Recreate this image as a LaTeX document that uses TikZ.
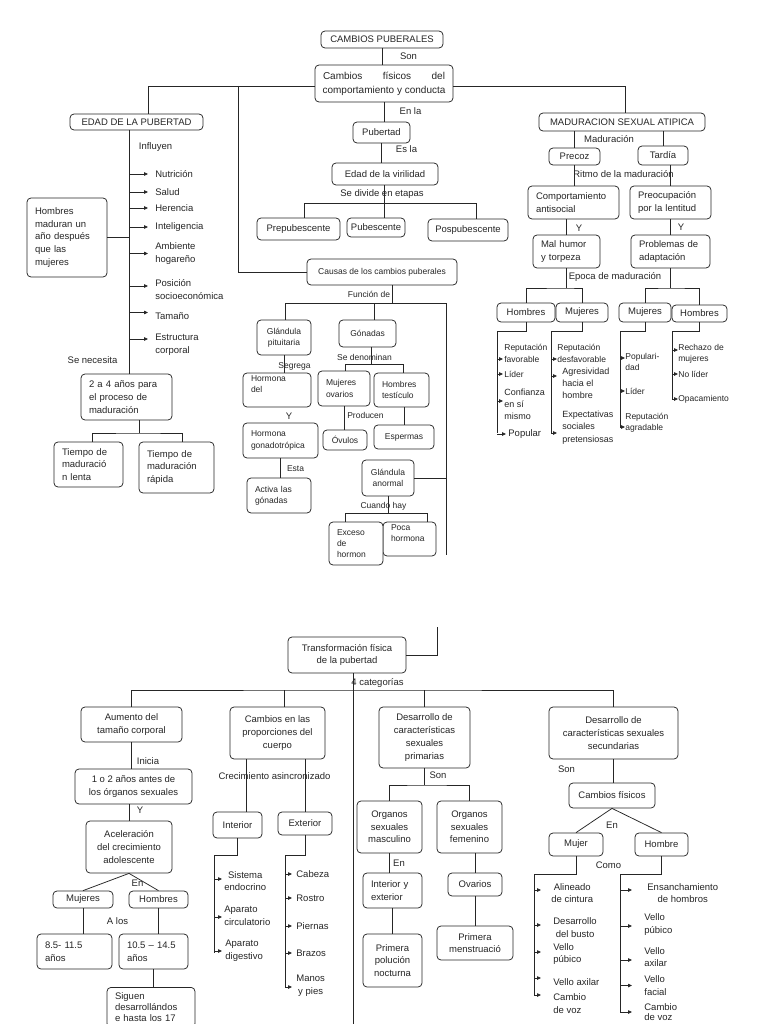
\documentclass[tikz,border=0pt]{standalone}
\usepackage{fontspec}
\setmainfont{Liberation Sans}
\usetikzlibrary{arrows.meta}

\begin{document}
\begin{tikzpicture}[x=1pt, y=-1pt, line width=0.75pt, color=black!85,
    box/.style={draw, rounded corners=4pt, align=center, inner sep=1pt,
        font=\fontsize{9.5}{12.7}\selectfont},
    lbox/.style={box, align=left, inner xsep=8pt},
    sbox/.style={box, font=\fontsize{8.5}{11.3}\selectfont},
    slbox/.style={sbox, align=left, inner xsep=8pt},
    lbl/.style={inner sep=1pt, font=\fontsize{9.5}{12}\selectfont},
    slbl/.style={lbl, font=\fontsize{8.5}{11}\selectfont},
    itm/.style={anchor=west, align=left, inner sep=1pt, font=\fontsize{9.5}{12.7}\selectfont},
    sitm/.style={itm, font=\fontsize{8.5}{11.3}\selectfont},
    mitm/.style={itm, font=\fontsize{9}{12.2}\selectfont},
    arr/.style={-{Triangle[length=4pt,width=3.5pt]}}]

    \useasboundingbox (0,0) rectangle (768,1024);
    \fill[white] (0,0) rectangle (768,1024);
    \clip (0,0) rectangle (768,1024);

    % parte superior
    \node[box, minimum width=122pt, minimum height=17pt] (cp) at (382,39.5) {CAMBIOS PUBERALES};
    \node[lbl] (son1) at (408.5,56) {Son};
    \node[box, font=\fontsize{10}{14}\selectfont, minimum width=138pt, minimum height=37pt] (cf) at (384,83.5)
        {\makebox[122pt][s]{Cambios físicos del}\\comportamiento y conducta};
    \node[lbl] (enla) at (410.5,111) {En la};
    \node[box, minimum width=57pt, minimum height=21pt] (pub) at (381.5,132.5) {Pubertad};
    \node[lbl] (esla) at (406.5,149) {Es la};
    \node[box, minimum width=106pt, minimum height=22pt] (virl) at (385,174) {Edad de la virilidad};
    \node[lbl] (sdiv) at (382,194) {Se divide en etapas};
    \node[box, minimum width=83pt, minimum height=22pt] (pre) at (298.5,229) {Prepubescente};
    \node[box, minimum width=58pt, minimum height=19pt] (pbs) at (376,227.5) {Pubescente};
    \node[box, minimum width=80pt, minimum height=22pt] (posp) at (468,230) {Pospubescente};

    \coordinate (jl) at (238,86);
    \coordinate (jel) at (148,86);
    \coordinate (jr) at (625,86);
    \coordinate (sd) at (384,203);
    \coordinate (sdl) at (304,203);
    \coordinate (sdr) at (476,203);
    \draw (cp.south) -- (cp.south |- cf.north);
    \draw (cf.south) -- (cf.south |- pub.north);
    \draw (pub.south) -- (pub.south |- virl.north);
    \draw (virl.south -| sd) -- (pbs.north -| sd);
    \draw (pre.north -| sdl) |- (sdr) -- (posp.north -| sdr);

    % edad de la pubertad
    \node[box, minimum width=133pt, minimum height=16pt] (edad) at (136.5,122) {EDAD DE LA PUBERTAD};
    \node[lbl] (infl) at (155.5,147) {Influyen};
    \node[itm] (nut) at (154,174) {Nutrición};
    \node[itm] (sal) at (154,192) {Salud};
    \node[itm] (her) at (154,208) {Herencia};
    \node[itm] (intl) at (154,227) {Inteligencia};
    \node[itm] (amb) at (154,253.5) {Ambiente\\hogareño};
    \node[itm] (posi) at (154,289.5) {Posición\\socioeconómica};
    \node[itm] (tam) at (154,316) {Tamaño};
    \node[itm] (est) at (154,344.5) {Estructura\\corporal};
    \node[lbox, text width=64pt, minimum height=79pt] (hmad) at (67,237.5)
        {Hombres\\maduran un\\año después\\que las\\mujeres};
    \node[lbl] (nec) at (92.5,360) {Se necesita};
    \node[lbox, text width=75pt, minimum height=46pt] (two) at (126.5,397)
        {2 a 4 años para\\el proceso de\\maduración};
    \node[lbox, text width=53pt, minimum height=45pt] (tl) at (88.5,464.5) {Tiempo de\\maduració\\n lenta};
    \node[lbox, text width=59pt, minimum height=51pt] (tr) at (176.5,467.5) {Tiempo de\\maduración\\rápida};

    \coordinate (et) at (129,130);
    \coordinate (j2) at (139,433);
    \coordinate (j2l) at (92,433);
    \coordinate (j2r) at (182,433);
    \draw (cf.west |- jl) -- (jel) -- (jel |- edad.north);
    \draw (et) -- (et |- two.north);
    \draw (hmad.east) -- (et |- hmad.east);
    \draw[arr] (et |- nut.west) -- ++(19,0);
    \draw[arr] (et |- sal.west) -- ++(19,0);
    \draw[arr] (et |- her.west) -- ++(19,0);
    \draw[arr] (et |- intl.west) -- ++(19,0);
    \draw[arr] (et |- amb.west) -- ++(19,0);
    \draw[arr] (et |- posi.west) ++(0,-3.5) -- ++(19,0);
    \draw[arr] (et |- tam.west) ++(0,-3.5) -- ++(19,0);
    \draw[arr] (et |- est.west) ++(0,-5.5) -- ++(19,0);
    \draw (two.south -| j2) -- (j2);
    \draw (tl.north -| j2l) |- (j2) -| (tr.north -| j2r);

    % causas
    \node[sbox, minimum width=150pt, minimum height=26pt] (causas) at (382,272) {Causas de los cambios puberales};
    \node[slbl] (func) at (369,294) {Función de};
    \node[sbox, minimum width=54pt, minimum height=35pt] (glp) at (284,337.5) {Glándula\\pituitaria};
    \node[slbl] (segr) at (294.5,366) {Segrega};
    \node[slbox, text width=52pt, minimum height=34pt] (hdel) at (277,390) {Hormona\\del\\\mbox{}};
    \node[lbl] (y1) at (289,416) {Y};
    \node[slbox, text width=59pt, minimum height=35pt] (hgon) at (280.5,440.5) {Hormona\\gonadotrópica};
    \node[slbl] (esta) at (295.5,469) {Esta};
    \node[slbox, text width=48pt, minimum height=35pt] (act) at (279,495.5) {Activa las\\gónadas};
    \node[sbox, minimum width=57pt, minimum height=27pt] (gon) at (367.5,333.5) {Gónadas};
    \node[slbl] (sden) at (364.5,357) {Se denominan};
    \node[slbox, text width=36pt, minimum height=35pt] (mov) at (344,388.5) {Mujeres\\ovarios};
    \node[slbox, text width=39pt, minimum height=34pt] (hte) at (401.5,390) {Hombres\\testículo};
    \node[slbl] (prod) at (365.5,415) {Producen};
    \node[sbox, minimum width=44pt, minimum height=20pt] (ovu) at (345,440) {Óvulos};
    \node[sbox, minimum width=60pt, minimum height=24pt] (esp) at (404,437) {Espermas};
    \node[sbox, minimum width=52pt, minimum height=36pt] (gan) at (388,478) {Glándula\\anormal};
    \node[slbl] (cuan) at (383.5,506) {Cuando hay};
    \node[slbox, text width=37pt, minimum height=34pt] (poca) at (409.5,539) {Poca\\hormona\\\mbox{}};
    \node[slbox, fill=white, text width=38pt, minimum height=43pt] (exc) at (356,543.5) {Exceso\\de\\hormon};

    \coordinate (fj) at (392,303);
    \coordinate (fl) at (285,303);
    \coordinate (fm) at (374,303);
    \coordinate (fr) at (446,303);
    \coordinate (fre) at (446,555);
    \coordinate (gj) at (371,364);
    \coordinate (gjl) at (345,364);
    \coordinate (gjr) at (403,364);
    \coordinate (cj) at (388,513);
    \coordinate (cjl) at (345,513);
    \coordinate (cjr) at (427,513);
    \draw (jl) |- (causas.west);
    \draw (causas.south -| fj) -- (fj);
    \draw (glp.north -| fl) |- (fr) -- (fre);
    \draw (fm) -- (gon.north -| fm);
    \draw (glp.south) -- (glp.south |- hdel.north);
    \draw (hgon.south) -- (hgon.south |- act.north);
    \draw (gon.south -| gj) -- (gj);
    \draw (mov.north -| gjl) |- (gjr) -- (hte.north -| gjr);
    \draw (mov.south) -- (mov.south |- ovu.north);
    \draw (esp.north |- hte.south) -- (esp.north);
    \draw (gan.east) -- (gan.east -| fr);
    \draw (gan.south) -- (cj);
    \draw (exc.north -| cjl) |- (cjr) -- (poca.north -| cjr);

    % maduracion sexual atipica
    \node[box, minimum width=166pt, minimum height=18pt] (mad) at (622,122) {MADURACION SEXUAL ATIPICA};
    \node[lbl] (madu) at (609,139) {Maduración};
    \node[box, minimum width=51pt, minimum height=17pt] (prc) at (574.5,156.5) {Precoz};
    \node[box, minimum width=50pt, minimum height=19pt] (tar) at (663,155.5) {Tardía};
    \node[lbl] (ritmo) at (623.5,174) {Ritmo de la maduración};
    \node[lbox, text width=75pt, minimum height=33pt] (comp) at (573.5,202.5) {Comportamiento\\antisocial};
    \node[lbox, text width=65pt, minimum height=33pt] (preo) at (670.5,202.5) {Preocupación\\por la lentitud};
    \node[lbl] (y2) at (579,228) {Y};
    \node[lbl] (y3) at (681,227) {Y};
    \node[lbox, text width=51pt, minimum height=33pt] (mal) at (566.5,251.5) {Mal humor\\y torpeza};
    \node[lbox, text width=63pt, minimum height=33pt] (prob) at (670.5,251.5) {Problemas de\\adaptación};
    \node[lbl] (epoca) at (615,277) {Epoca de maduración};
    \node[box, minimum width=58pt, minimum height=19pt] (hb1) at (526,312.5) {Hombres};
    \node[box, minimum width=52pt, minimum height=19pt] (mj1) at (582,312.5) {Mujeres};
    \node[box, minimum width=52pt, minimum height=19pt] (mj2) at (645,312.5) {Mujeres};
    \node[box, minimum width=55pt, minimum height=17pt] (hb2) at (699.5,313.5) {Hombres};

    \node[sitm] (rfav) at (503,353.5) {Reputación\\favorable};
    \node[sitm] (lid1) at (503,374) {Líder};
    \node[mitm] (conf) at (503,404) {Confianza\\en sí\\mismo};
    \node[itm] (popu) at (507,434) {Popular};
    \node[sitm] (rdes) at (556,353.5) {Reputación\\desfavorable};
    \node[mitm] (agr) at (561,383.5) {Agresividad\\hacia el\\hombre};
    \node[mitm] (expe) at (561,427.5) {Expectativas\\sociales\\pretensiosas};
    \node[sitm] (popd) at (624,362) {Populari-\\dad};
    \node[sitm] (lid2) at (624,391) {Líder};
    \node[sitm] (ragr) at (624,423) {Reputación\\agradable};
    \node[sitm] (rech) at (677,353.5) {Rechazo de\\mujeres};
    \node[sitm] (nol) at (677,374) {No líder};
    \node[sitm] (opac) at (677,399) {Opacamiento};

    \coordinate (e1) at (566.5,288);
    \coordinate (e2) at (670.5,288);
    \coordinate (t1) at (497,331);
    \coordinate (t2) at (551,331);
    \coordinate (t3) at (620,331);
    \coordinate (t4) at (672,331);
    \draw (cf.east |- jr) -- (jr) -- (jr |- mad.north);
    \draw (prc.north |- mad.south) -- (prc.north);
    \draw (tar.north |- mad.south) -- (tar.north);
    \draw (prc.south) -- (prc.south |- comp.north);
    \draw (preo.north |- tar.south) -- (preo.north);
    \draw (mal.north |- comp.south) -- (mal.north);
    \draw (prob.north |- preo.south) -- (prob.north);
    \draw (mal.south) -- (e1);
    \draw (hb1.north) |- (e1) -| (mj1.north);
    \draw (prob.south) -- (e2);
    \draw (mj2.north) |- (e2) -| (hb2.north);
    \draw (hb1.south) |- (t1) -- ++(0,102);
    \draw (mj1.south) |- (t2) -- ++(0,102);
    \draw (mj2.south) |- (t3) -- ++(0,96);
    \draw (hb2.south) |- (t4) -- ++(0,69);
    \draw[arr] (t1 |- rfav.west) ++(0,5.5) -- ++(6,0);
    \draw[arr] (t1 |- lid1.west) -- ++(6,0);
    \draw[arr] (t1 |- conf.west) ++(0,-3) -- ++(6,0);
    \draw[arr] (t1 |- popu.west) -- ++(9,0);
    \draw[arr] (t2 |- rdes.west) ++(0,5.5) -- ++(6,0);
    \draw[arr] (t2 |- agr.west) ++(0,-7.5) -- ++(6,0);
    \draw[arr] (t2 |- expe.west) ++(0,5.5) -- ++(6,0);
    \draw[arr] (t3 |- popd.west) ++(0,-4) -- ++(5,0);
    \draw[arr] (t3 |- lid2.west) -- ++(5,0);
    \draw[arr] (t3 |- ragr.west) ++(0,4) -- ++(5,0);
    \draw[arr] (t4 |- rech.west) ++(0,-3.5) -- ++(6,0);
    \draw[arr] (t4 |- nol.west) -- ++(6,0);
    \draw[arr] (t4 |- opac.west) -- ++(6,0);

    % transformacion fisica
    \node[box, minimum width=118pt, minimum height=36pt] (tf) at (347,655) {Transformación física\\de la pubertad};
    \node[lbl] (cuat) at (377.5,683) {4 categorías};
    \coordinate (pg) at (437,627);
    \coordinate (cat) at (353,690);
    \coordinate (c2) at (284,690);
    \coordinate (vb) at (353,1030);
    \draw (pg) |- (tf.east);
    \draw (tf.south -| cat) -- (vb);

    \node[box, minimum width=101pt, minimum height=35pt] (au) at (131.5,724.5) {Aumento del\\tamaño corporal};
    \node[lbl] (ini) at (148,761) {Inicia};
    \node[box, minimum width=117pt, minimum height=35pt] (ua) at (133.5,786.5) {1 o 2 años antes de\\los órganos sexuales};
    \node[lbl] (y4) at (140,810) {Y};
    \node[box, minimum width=86pt, minimum height=52pt] (ac) at (129,847) {Aceleración\\del crecimiento\\adolescente};
    \node[lbl] (en1) at (137.5,883) {En};
    \node[box, minimum width=60pt, minimum height=17pt] (mj3) at (83,899.5) {Mujeres};
    \node[box, minimum width=59pt, minimum height=17pt] (hb3) at (158.5,899.5) {Hombres};
    \node[lbl] (alos) at (117.5,921) {A los};
    \node[lbox, text width=59pt, minimum height=35pt] (e85) at (74.5,951.5) {8.5- 11.5\\años};
    \node[lbox, text width=53pt, minimum height=35pt] (e105) at (153.5,951.5) {10.5 – 14.5\\años};
    \node[lbox, text width=72pt, minimum height=40pt, anchor=north, font=\fontsize{9.5}{11}\selectfont] (sig) at (151,987)
        {Siguen\\desarrollándos\\e hasta los 17};

    \draw (au.south) -- (au.south |- ua.north);
    \draw (ac.north |- ua.south) -- (ac.north);
    \draw (mj3.north) -- (ac.south) -- (hb3.north);
    \draw (mj3.south) -- (mj3.south |- e85.north);
    \draw (hb3.south) -- (hb3.south |- e105.north);
    \draw (e105.south) -- (e105.south |- sig.north);

    \node[box, minimum width=95pt, minimum height=52pt] (cpr) at (277.5,733) {Cambios en las\\proporciones del\\cuerpo};
    \node[lbl] (asin) at (274.5,776) {Crecimiento asincronizado};
    \node[box, minimum width=49pt, minimum height=26pt] (int) at (237.5,825) {Interior};
    \node[box, minimum width=54pt, minimum height=23pt] (ext) at (305,823.5) {Exterior};
    \node[itm, align=center] (send) at (223,881) {Sistema\\endocrino};
    \node[itm] (acir) at (223,915.5) {Aparato\\circulatorio};
    \node[itm] (adig) at (224,951) {Aparato\\digestivo};
    \node[itm] (cab) at (295,874) {Cabeza};
    \node[itm] (ros) at (295,898) {Rostro};
    \node[itm] (pie) at (295,926) {Piernas};
    \node[itm] (bra) at (295,953) {Brazos};
    \node[itm, align=center] (man) at (295,986) {Manos\\y pies};

    \coordinate (ci) at (246,759);
    \coordinate (ti) at (214,855);
    \coordinate (te) at (285,855);
    \draw (ci) -- (ci |- int.north);
    \draw (ext.north |- cpr.south) -- (ext.north);
    \draw (int.south) |- (ti) -- ++(0,98);
    \draw (ext.south) |- (te) -- ++(0,132);
    \draw[arr] (ti |- send.west) ++(0,-2) -- ++(8,0);
    \draw[arr] (ti |- acir.west) ++(0,1.5) -- ++(8,0);
    \draw[arr] (ti |- adig.west) -- ++(8,0);
    \draw[arr] (te |- cab.west) -- ++(7,0);
    \draw[arr] (te |- ros.west) -- ++(7,0);
    \draw[arr] (te |- pie.west) -- ++(7,0);
    \draw[arr] (te |- bra.west) -- ++(7,0);
    \draw[arr] (te |- man.west) ++(0,1) -- ++(7,0);

    \node[box, minimum width=91pt, minimum height=61pt] (pri) at (424.5,737.5) {Desarrollo de\\características\\sexuales\\primarias};
    \node[lbl] (son2) at (438,775) {Son};
    \node[box, minimum width=65pt, minimum height=52pt] (oma) at (389.5,827) {Organos\\sexuales\\masculino};
    \node[box, minimum width=65pt, minimum height=52pt] (ofe) at (469.5,827) {Organos\\sexuales\\femenino};
    \node[lbl] (en2) at (399,863) {En};
    \node[lbox, text width=43pt, minimum height=35pt] (iye) at (392.5,890.5) {Interior y\\exterior};
    \node[box, minimum width=59pt, minimum height=53pt] (ppn) at (392.5,960.5) {Primera\\polución\\nocturna};
    \node[box, minimum width=54pt, minimum height=23pt] (ova) at (475,884.5) {Ovarios};
    \node[box, minimum width=76pt, minimum height=34pt] (pme) at (475,943) {Primera\\menstruació};

    \coordinate (sj) at (424.5,785);
    \draw (pri.south) -- (sj);
    \draw (oma.north) |- (sj) -| (ofe.north);
    \draw (oma.south) -- (oma.south |- iye.north);
    \draw (iye.south) -- (iye.south |- ppn.north);
    \draw (ova.north |- ofe.south) -- (ova.north);
    \draw (ova.south) -- (ova.south |- pme.north);

    \node[box, minimum width=129pt, minimum height=52pt] (sec) at (613.5,733) {Desarrollo de\\características sexuales\\secundarias};
    \node[lbl] (son3) at (566.5,769) {Son};
    \node[box, minimum width=86pt, minimum height=25pt] (cfi) at (612,795.5) {Cambios físicos};
    \node[lbl] (en3) at (612,825) {En};
    \node[box, minimum width=54pt, minimum height=23pt] (mu) at (576,844.5) {Mujer};
    \node[box, minimum width=53pt, minimum height=23pt] (ho) at (661.5,844.5) {Hombre};
    \node[lbl] (como) at (608.5,865) {Como};
    \node[itm, align=center] (alin) at (550,893) {Alineado\\de cintura};
    \node[itm, align=center] (dbus) at (552,927.5) {Desarrollo\\del busto};
    \node[itm] (vp1) at (552,954) {Vello\\púbico};
    \node[itm] (vax1) at (552,982) {Vello axilar};
    \node[itm] (cv1) at (552,1003.5) {Cambio\\de voz};
    \node[itm, align=center] (ens) at (646,893) {Ensanchamiento\\de hombros};
    \node[itm] (vp2) at (643,924.5) {Vello\\púbico};
    \node[itm] (vax2) at (643,957) {Vello\\axilar};
    \node[itm] (vfa) at (643,985.5) {Vello\\facial};
    \node[itm, font=\fontsize{9.5}{10.7}\selectfont] (cv2) at (643,1012) {Cambio\\de voz};

    % ramas de las 4 categorias
    \draw (au.north) |- (cat) -| (sec.north);
    \draw (c2) -- (c2 |- cpr.north);
    \draw (pri.north) -- (pri.north |- cat);

    \coordinate (tm) at (534,874);
    \coordinate (th) at (620,874);
    \draw (sec.south) -- (sec.south |- cfi.north);
    \draw (mu.north) -- (cfi.south) -- (ho.north);
    \draw (mu.south) |- (tm) -- ++(0,121);
    \draw (ho.south) |- (th) -- ++(0,139);
    \draw[arr] (tm |- alin.west) ++(0,-3) -- ++(7,0);
    \draw[arr] (tm |- dbus.west) ++(0,-2.5) -- ++(7,0);
    \draw[arr] (tm |- vp1.west) ++(0,-2) -- ++(7,0);
    \draw[arr] (tm |- vax1.west) ++(0,-4) -- ++(7,0);
    \draw[arr] (tm |- cv1.west) ++(0,-8.5) -- ++(7,0);
    \draw[arr] (th |- ens.west) ++(0,-3) -- ++(12,0);
    \draw[arr] (th |- vp2.west) ++(0,1.5) -- ++(12,0);
    \draw[arr] (th |- vax2.west) ++(0,3) -- ++(12,0);
    \draw[arr] (th |- vfa.west) -- ++(12,0);
    \draw[arr] (th |- cv2.west) -- ++(12,0);
\end{tikzpicture}
\end{document}
